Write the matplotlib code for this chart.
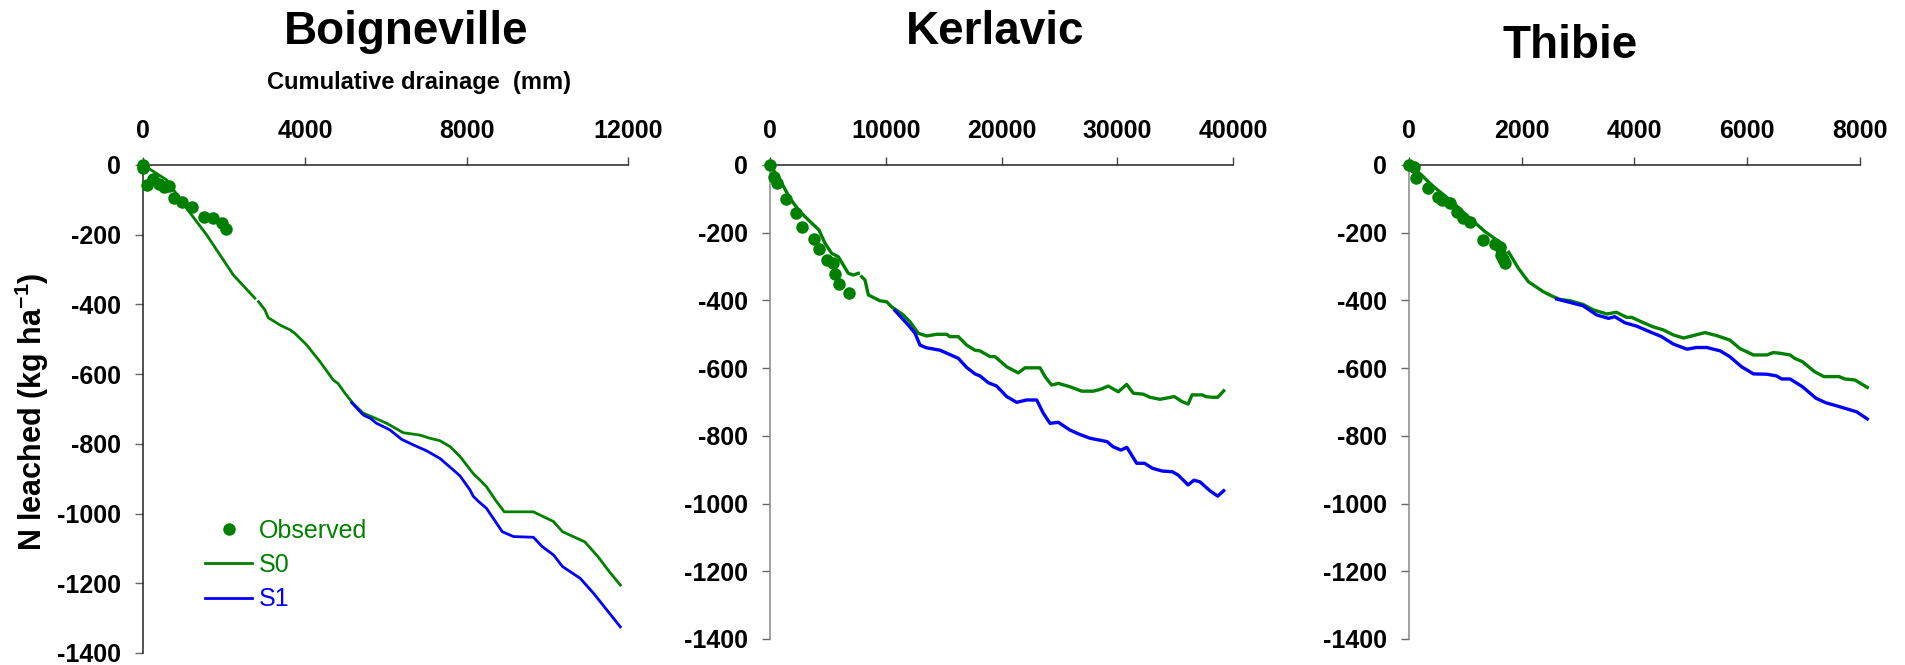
import numpy as np
import matplotlib
matplotlib.use("Agg")
import matplotlib.pyplot as plt
from matplotlib.lines import Line2D
from matplotlib.ticker import FixedLocator, FuncFormatter

plt.rcParams['font.family'] = ['Liberation Sans', 'DejaVu Sans']
plt.rcParams['axes.unicode_minus'] = False
plt.rcParams['mathtext.fontset'] = 'custom'
plt.rcParams['mathtext.rm'] = 'Liberation Sans:bold'
plt.rcParams['mathtext.it'] = 'Liberation Sans:bold'
plt.rcParams['mathtext.bf'] = 'Liberation Sans:bold'

nan = np.nan

# --- Boigneville: cumulative drainage (mm) vs N leached (kg/ha) ---
boig_obs_x = [0, 0, 100, 250, 400, 500, 640, 760, 950, 1200, 1500, 1730, 1940, 2050]
boig_obs_y = [0, -10, -57, -40, -55, -64, -60, -96, -105, -120, -150, -153, -167, -184]
boig_s0_x = [0, 580, 1070, 1570, 2230, 2760, nan, 2850, 3010, 3090,
             3380, 3630, 3750, 4040, 4370, 4700, 4820, 4990, 5190, 5440,
             5690, 6020, 6430, 6850, 7090, 7340, 7590, 7840, 8160, 8330,
             8490, 8710, 8930, 9650, 10150, 10370, 10920, 11250, 11530, 11800]
boig_s0_y = [0, -43, -124, -201, -316, -382, nan, -392, -416, -438,
             -459, -473, -483, -516, -564, -617, -627, -655, -684, -712,
             -724, -741, -768, -775, -784, -791, -808, -837, -885, -904,
             -923, -961, -995, -995, -1023, -1052, -1081, -1124, -1167, -1205]
boig_s1_x = [5155, 5440, 5620, 5770, 6100, 6390, 6680, 7010, 7340, 7670,
             7835, 8080, 8160, 8290, 8490, 8880, 9160, 9650, 9870, 10150,
             10370, 10810, 11140, 11470, 11800]
boig_s1_y = [-682, -717, -727, -741, -760, -787, -803, -820, -842, -875,
             -892, -932, -950, -965, -985, -1052, -1066, -1068, -1095, -1119,
             -1152, -1186, -1229, -1277, -1325]

# --- Kerlavic ---
kerl_obs_x = [0, 370, 630, 1380, 2220, 2740, 3830, 4230, 4900, 5410, 5620, 5990, 6830]
kerl_obs_y = [0, -34, -54, -99, -141, -182, -220, -249, -281, -288, -321, -350, -377]
kerl_s0_x = [0, 860, 1730, 2590, 3460, 4230, 4750, 5330, 5900, 6770,
             7200, 7630, nan, 7920, 8210, 8500, 9500, 10080, 10510, 11520,
             12090, 12810, 13530, 14400, 15260, 15550, 16270, 16990, 17710, 18140,
             19010, 19440, 20450, 21450, 22030, 23330, 23760, 24330, 24910, 25920,
             26930, 27930, 28510, 29230, 30090, 30810, 31390, 32250, 32830, 33690,
             34930, 35610, 36120, 36460, 37320, 37660, 38170, 38680, 39200]
kerl_s0_y = [0, -44, -99, -138, -167, -192, -231, -261, -271, -320,
             -325, -320, nan, -330, -340, -384, -401, -404, -419, -443,
             -463, -497, -505, -500, -500, -507, -507, -532, -547, -549,
             -566, -566, -596, -614, -599, -599, -625, -650, -645, -655,
             -668, -668, -663, -653, -670, -648, -674, -677, -686, -692,
             -684, -699, -706, -679, -679, -684, -686, -686, -667]
kerl_s1_x = [10800, 11230, 11950, 12530, 12960, 13530, 14690, 15410, 16270, 16990,
             17710, 18140, 18860, 19580, 20450, 21310, 22170, 23040, 23610, 24190,
             24910, 25920, 26780, 27640, 29120, 29630, 30320, 30830, 31680, 32360,
             33050, 33900, 34760, 35270, 36120, 36630, 37150, 38000, 38680, 39200]
kerl_s1_y = [-430, -446, -473, -497, -532, -540, -547, -558, -571, -598,
             -617, -623, -643, -653, -684, -701, -694, -694, -733, -763,
             -760, -783, -796, -807, -817, -832, -842, -834, -881, -881,
             -896, -904, -906, -916, -945, -931, -936, -962, -978, -962]

# --- Thibie ---
thib_obs_x = [0, 80, 120, 330, 520, 590, 720, 850, 960, 1080, 1310, 1530, 1610, 1630, 1670, 1700]
thib_obs_y = [0, -5, -37, -69, -94, -103, -113, -138, -156, -169, -222, -234, -243, -266, -278, -288]
thib_s0_x = [0, 225, 400, 760, 1050, 1350, 1610, 1700, nan, 1770,
             1940, 2120, 2380, 2560, 2680, 2860, 3090, 3270, 3510, 3680,
             3860, 3950, 4160, 4330, 4510, 4690, 4870, 5040, 5250, 5460,
             5690, 5870, 6110, 6350, 6460, 6580, 6760, 6840, 6980, 7190,
             7360, 7630, 7730, 7910, 8130]
thib_s0_y = [0, -30, -59, -108, -153, -197, -228, -244, nan, -258,
             -305, -345, -374, -389, -397, -401, -412, -428, -440, -435,
             -450, -450, -466, -478, -487, -502, -511, -504, -495, -504,
             -517, -542, -561, -561, -554, -556, -561, -571, -581, -610,
             -625, -625, -632, -635, -657]
thib_s1_x = [2620, 2860, 3090, 3330, 3540, 3650, 3830, 4040, 4220, 4480,
             4690, 4930, 5100, 5280, 5520, 5690, 5900, 6110, 6350, 6520,
             6610, 6760, 6980, 7220, 7390, 7600, 7800, 7940, 8130]
thib_s1_y = [-396, -406, -416, -443, -453, -448, -466, -476, -489, -507,
             -529, -544, -539, -539, -549, -566, -596, -617, -618, -623,
             -632, -632, -655, -689, -702, -712, -722, -729, -750]

y_ticks = [0, -200, -400, -600, -800, -1000, -1200, -1400]
legend_labels = ['Observed', 'S0', 'S1']

GREEN = '#008000'
BLUE = '#0000ff'

W, H = 1906, 665
fig = plt.figure(figsize=(W / 100, H / 100), dpi=100)


def add_axes_px(left, right, top, bottom):
    return fig.add_axes([left / W, 1 - bottom / H, (right - left) / W, (bottom - top) / H])


def draw_site(ax, obs_x, obs_y, s0_x, s0_y, s1_x, s1_y, x_ticks, lw, left_color):
    ax.plot(s0_x, s0_y, color=GREEN, lw=lw, clip_on=False, zorder=3)
    ax.plot(s1_x, s1_y, color=BLUE, lw=lw, clip_on=False, zorder=4)
    ax.plot(obs_x, obs_y, 'o', color=GREEN, ms=9, mec='none', clip_on=False, zorder=5)

    ax.set_xlim(0, x_ticks[-1])
    ax.set_ylim(-1400, 0)
    ax.xaxis.set_major_locator(FixedLocator(x_ticks))
    ax.yaxis.set_major_locator(FixedLocator(y_ticks))
    ax.yaxis.set_major_formatter(FuncFormatter(lambda v, p: f"{v:.0f}"))
    ax.xaxis.tick_top()

    for side in ('bottom', 'right'):
        ax.spines[side].set_visible(False)
    ax.spines['top'].set_color('#222222')
    ax.spines['left'].set_color(left_color)
    ax.spines['top'].set_linewidth(1.1)
    ax.spines['left'].set_linewidth(1.1)

    ax.tick_params(axis='x', direction='out', length=6, width=1, color='#444444',
                   pad=10, labelsize=18)
    ax.tick_params(axis='y', direction='out', length=6, width=1, color='#666666',
                   pad=10, labelsize=18)
    for lab in ax.get_xticklabels() + ax.get_yticklabels():
        lab.set_fontweight('bold')
    ax.patch.set_alpha(0)


ax1 = add_axes_px(143.3, 628.4, 165, 653)
draw_site(ax1, boig_obs_x, boig_obs_y, boig_s0_x, boig_s0_y, boig_s1_x, boig_s1_y,
          [0, 4000, 8000, 12000], 2.0, '#222222')

ax2 = add_axes_px(770, 1233, 165, 639)
draw_site(ax2, kerl_obs_x, kerl_obs_y, kerl_s0_x, kerl_s0_y, kerl_s1_x, kerl_s1_y,
          [0, 10000, 20000, 30000, 40000], 2.4, '#888888')

ax3 = add_axes_px(1409, 1860, 165, 639)
draw_site(ax3, thib_obs_x, thib_obs_y, thib_s0_x, thib_s0_y, thib_s1_x, thib_s1_y,
          [0, 2000, 4000, 6000, 8000], 2.4, '#888888')

# site titles
fig.text(406 / W, 1 - 44 / H, 'Boigneville', ha='center', va='baseline',
         fontsize=33, fontweight='bold')
fig.text(995 / W, 1 - 44 / H, 'Kerlavic', ha='center', va='baseline',
         fontsize=33, fontweight='bold')
fig.text(1570 / W, 1 - 58 / H, 'Thibie', ha='center', va='baseline',
         fontsize=33, fontweight='bold')

fig.text(419 / W, 1 - 89 / H, 'Cumulative drainage  (mm)', ha='center', va='baseline',
         fontsize=17, fontweight='bold')
fig.text(32 / W, 1 - 412 / H, r'N leached (kg ha$^{-1}$)', rotation=90,
         ha='center', va='center', fontsize=22, fontweight='bold')

handles = [
    Line2D([], [], marker='o', ls='none', color=GREEN, ms=9, mec='none'),
    Line2D([], [], color=GREEN, lw=2.0),
    Line2D([], [], color=BLUE, lw=2.0),
]
leg = ax1.legend(handles, legend_labels, loc='center left',
                 bbox_to_anchor=((205 - 143.3) / 485.1, (653 - 565) / 488),
                 frameon=False, fontsize=18, handlelength=1.9,
                 handletextpad=0.25, labelspacing=0.42, borderpad=0, borderaxespad=0)
for txt, col in zip(leg.get_texts(), [GREEN, GREEN, BLUE]):
    txt.set_color(col)

fig.savefig('out.png', dpi=100)
